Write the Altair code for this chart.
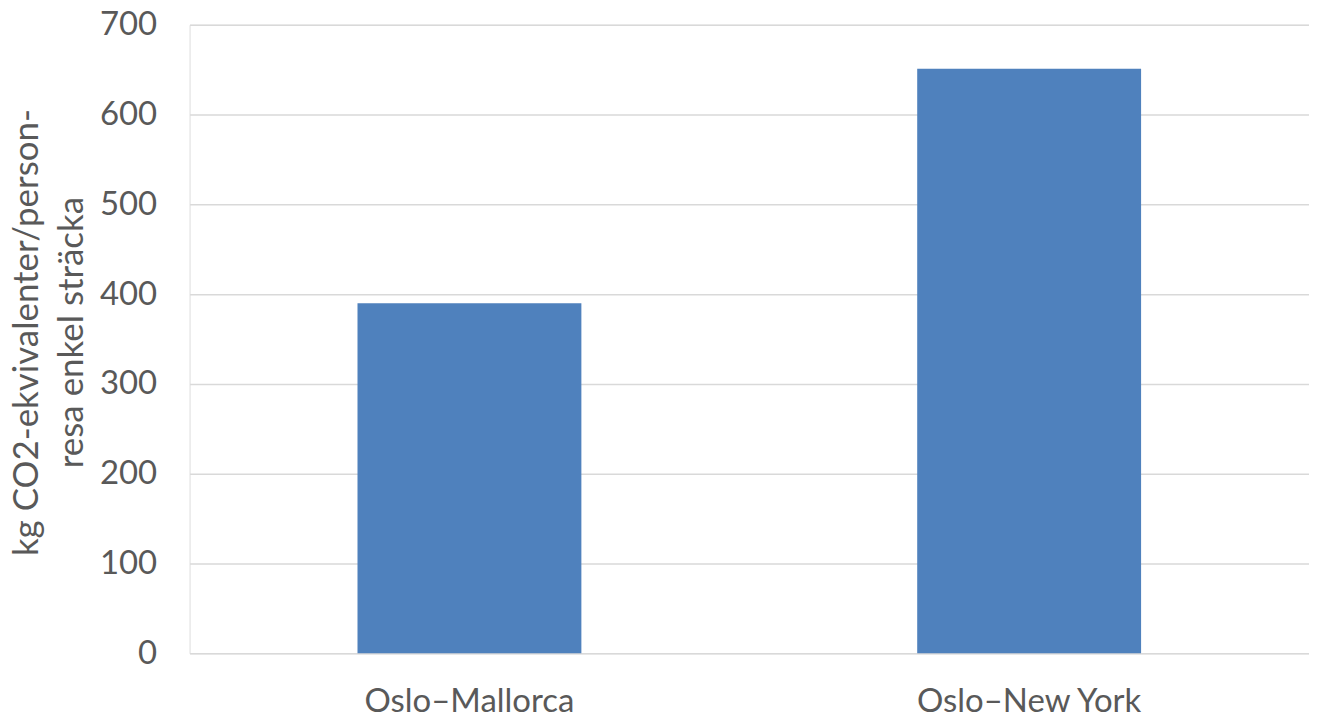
import altair as alt
import pandas as pd

routes = ["Oslo–Mallorca", "Oslo–New York"]
emissions = [390, 651]

df = pd.DataFrame({"route": routes, "value": emissions})

FONT = "Lato"
GREY = "#595959"

chart = alt.Chart(df).mark_bar(color="#4f81bd").encode(
    x=alt.X("route:N", sort=routes,
            scale=alt.Scale(paddingInner=0.6, paddingOuter=0.3),
            axis=alt.Axis(title=None, labelAngle=0, labelFont=FONT, labelFontSize=33,
                          labelColor=GREY, labelPadding=32, labelLimit=0,
                          ticks=False, domain=False, grid=False)),
    y=alt.Y("value:Q", scale=alt.Scale(domain=[0, 700], nice=False),
            axis=alt.Axis(values=list(range(0, 701, 100)),
                          title=["kg CO2-ekvivalenter/person-", "resa enkel sträcka"],
                          titleFont=FONT, titleFontSize=35, titleColor=GREY,
                          titleFontWeight="normal", titleLineHeight=45,
                          titleAngle=-90, titleAlign="center", titleBaseline="top",
                          titleX=-180, titleY=308,
                          labelFont=FONT, labelFontSize=33, labelColor=GREY,
                          labelPadding=33, ticks=False, domain=False,
                          gridColor="#d9d9d9", gridWidth=1.5)),
).properties(
    width=1122, height=630,
    autosize=alt.AutoSizeParams(type="none"),
    padding={"left": 182, "top": 16, "right": 0, "bottom": 63},
).configure_view(stroke=None).configure(background="white")

chart.save("out.html", embed_options={"renderer": "svg", "actions": False})
